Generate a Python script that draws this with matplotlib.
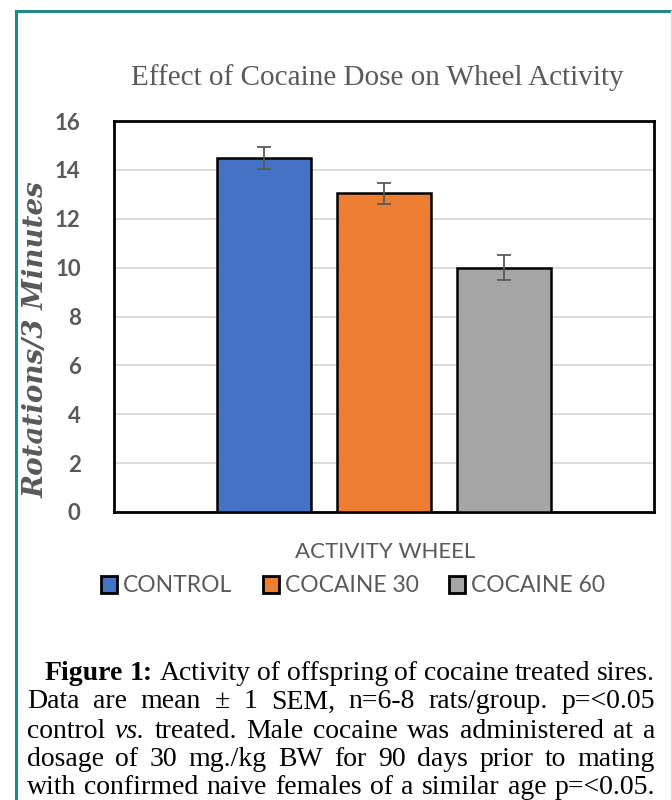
import matplotlib
matplotlib.use("Agg")
import matplotlib.pyplot as plt
from matplotlib.patches import Patch
from matplotlib.lines import Line2D

# data
groups = ["CONTROL", "COCAINE 30", "COCAINE 60"]
means = [14.5, 13.05, 10.0]
sems = [0.45, 0.43, 0.5]
bar_colors = ["#4472C4", "#ED7D31", "#A5A5A5"]
y_ticks = [0, 2, 4, 6, 8, 10, 12, 14, 16]

title = "Effect of Cocaine Dose on Wheel Activity"
y_label = "Rotations/3 Minutes"
x_label = "ACTIVITY WHEEL"

caption_lines = [
    [("Figure", "bold"), ("1:", "bold"), ("Activity", ""), ("of", ""), ("offspring", ""),
     ("of", ""), ("cocaine", ""), ("treated", ""), ("sires.", "")],
    [("Data", ""), ("are", ""), ("mean", ""), ("±", ""), ("1", ""), ("SEM,", ""),
     ("n=6-8", ""), ("rats/group.", ""), ("p=<0.05", "")],
    [("control", ""), ("vs.", "italic"), ("treated.", ""), ("Male", ""), ("cocaine", ""),
     ("was", ""), ("administered", ""), ("at", ""), ("a", "")],
    [("dosage", ""), ("of", ""), ("30", ""), ("mg./kg", ""), ("BW", ""), ("for", ""),
     ("90", ""), ("days", ""), ("prior", ""), ("to", ""), ("mating", "")],
    [("with", ""), ("confirmed", ""), ("naive", ""), ("females", ""), ("of", ""), ("a", ""),
     ("similar", ""), ("age", ""), ("p=<0.05.", "")],
]

W, H = 672, 800
GREY = "#595959"
TEAL = "#1f8a88"
SANS = "Lato"
SERIF = "Liberation Serif"


def px(x, y):
    return x / W, 1 - y / H


fig = plt.figure(figsize=(W / 100, H / 100), dpi=100)
fig.patch.set_facecolor("white")

# teal frame of the figure box
fig.add_artist(Line2D([16 / W, 16 / W], [0, 1 - 11 / H], color=TEAL, lw=2.2))
fig.add_artist(Line2D([16 / W, 1], [1 - 11 / H, 1 - 11 / H], color=TEAL, lw=2.2))
fig.add_artist(Line2D([670.5 / W, 670.5 / W], [0, 1 - 11 / H], color="#cfe6e4", lw=1))

ax = fig.add_axes([114 / W, 1 - 512 / H, 540 / W, 391 / H])
x = [-1, 0, 1]
ax.bar(x, means, width=0.78, color=bar_colors, edgecolor="black", linewidth=1.8, zorder=3)
ax.errorbar(x, means, yerr=sems, fmt="none", ecolor=GREY, elinewidth=1.3,
            capsize=5, capthick=1.3, zorder=4)
ax.set_xlim(-2.25, 2.25)
ax.set_ylim(0, 16)
ax.set_yticks(y_ticks)
ax.set_yticklabels([str(t) for t in y_ticks], fontsize=16, fontweight="bold",
                   color=GREY, family=SANS)
ax.tick_params(axis="y", length=0, pad=24)
ax.set_xticks([])
ax.grid(axis="y", color="#d9d9d9", linewidth=1.3, zorder=0)
for s in ax.spines.values():
    s.set_linewidth(2)
    s.set_color("black")

fig.text(*px(377, 78), title, ha="center", va="center", fontsize=21,
         color=GREY, family=SERIF)
fig.text(*px(36, 340), y_label, ha="center", va="center", rotation=90,
         fontsize=20, fontweight="bold", style="italic", color=GREY, family="DejaVu Serif")
fig.text(*px(385, 552), x_label, ha="center", va="center", fontsize=16,
         color=GREY, family=SANS)

handles = [Patch(facecolor=c, edgecolor="black", linewidth=2) for c in bar_colors]
fig.legend(handles, groups, loc="center", bbox_to_anchor=px(353, 586), ncol=3,
           frameon=False, handlelength=0.7, handleheight=0.7, handletextpad=0.25,
           columnspacing=1.35, prop={"family": SANS, "size": 16.5}, labelcolor=GREY)

# justified caption
fig.canvas.draw()
renderer = fig.canvas.get_renderer()
line_y = [673, 702, 731, 760, 787]
for i, words in enumerate(caption_lines):
    x0 = 45 if i == 0 else 27
    x1 = 655
    texts = []
    for w, st in words:
        t = fig.text(0, 1 - line_y[i] / H, w, fontsize=20, family=SERIF, va="center",
                     ha="left", color="black",
                     fontweight="bold" if st == "bold" else "normal",
                     style="italic" if st == "italic" else "normal")
        texts.append(t)
    widths = [t.get_window_extent(renderer).width for t in texts]
    gap = (x1 - x0 - sum(widths)) / (len(texts) - 1)
    cur = x0
    for t, wd in zip(texts, widths):
        t.set_x(cur / W)
        cur += wd + gap

fig.savefig("out.png", dpi=100)
